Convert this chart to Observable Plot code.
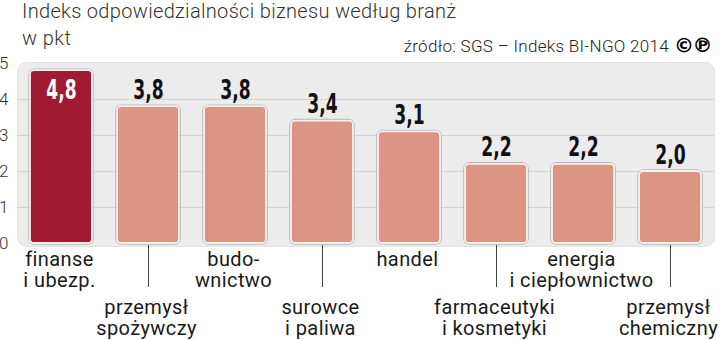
<!DOCTYPE html>
<html>
<head>
<meta charset="utf-8">
<script src="https://cdn.jsdelivr.net/npm/d3@7"></script>
<script src="https://cdn.jsdelivr.net/npm/@observablehq/plot@0.6"></script>
<style>
  html, body { margin: 0; padding: 0; background: #fff; }
  body { width: 720px; height: 340px; overflow: hidden; font-family: Roboto, "Noto Sans", sans-serif; }
  #header { position: relative; height: 56px; color: #333; }
  #title { position: absolute; left: 22px; top: 1px; font-size: 20px; line-height: 20px; letter-spacing: 0.32px; font-weight: 300; white-space: nowrap; }
  #unit { position: absolute; left: 22px; top: 28px; font-size: 20px; line-height: 20px; letter-spacing: 0.4px; font-weight: 300; }
  #source { position: absolute; right: 9px; top: 33px; font-size: 17px; letter-spacing: 0.3px; font-weight: 300; white-space: nowrap; color: #222; }
  #source .cp { font-family: "DejaVu Sans", sans-serif; font-weight: bold; font-size: 20px; letter-spacing: -1.5px; margin-left: 5px; color: #000; }
  svg { overflow: visible; }
</style>
</head>
<body>
<div id="header">
  <div id="title">Indeks odpowiedzialności biznesu według branż</div>
  <div id="unit">w pkt</div>
  <div id="source">źródło: SGS – Indeks BI-NGO 2014<span class="cp">©℗</span></div>
</div>
<div id="chart"></div>
<script>
const categories = ["finanse\ni ubezp.", "przemysł\nspożywczy", "budo-\nwnictwo", "surowce\ni paliwa", "handel", "farmaceutyki\ni kosmetyki", "energia\ni ciepłownictwo", "przemysł\nchemiczny"];
const values = [4.8, 3.8, 3.8, 3.4, 3.1, 2.2, 2.2, 2.0];
const valueLabels = ["4,8", "3,8", "3,8", "3,4", "3,1", "2,2", "2,2", "2,0"];
const yTicks = [0, 1, 2, 3, 4, 5];
const gridValues = [1, 2, 3, 4];

const data = categories.map((c, i) => ({cat: c, value: values[i], label: valueLabels[i], i}));
const topRow = data.filter(d => d.i % 2 === 0);
const bottomRow = data.filter(d => d.i % 2 === 1);
const highlight = data.filter(d => d.i === 0);
const others = data.filter(d => d.i !== 0);

const numFont = '"DejaVu Sans", sans-serif';

const chart = Plot.plot({
  width: 720,
  height: 284,
  marginTop: 7,
  marginBottom: 97,
  marginLeft: 17,
  marginRight: 6,
  style: {fontFamily: "Roboto, sans-serif", overflow: "visible", background: "transparent"},
  x: {domain: categories, paddingInner: 0.29, paddingOuter: 0.13, axis: null},
  y: {domain: [0, 5], axis: null},
  marks: [
    Plot.frame({fill: "#ececec", stroke: "#e2e2e2", rx: 9, insetTop: -1, insetBottom: -3}),
    Plot.ruleY(gridValues, {stroke: "#d3d3d3", strokeWidth: 1}),
    Plot.axisY({ticks: yTicks, tickSize: 0, tickPadding: 9, tickFormat: d => String(d), fontSize: 17, fontWeight: 300, fill: "#333", label: null}),
    Plot.barY(data, {x: "cat", y: "value", fill: "none", stroke: "#b9b3b3", strokeWidth: 3.5, rx: 4.5}),
    Plot.barY(others, {x: "cat", y: "value", fill: "#dc9583", stroke: "#f6f2f1", strokeWidth: 1.8, rx: 4}),
    Plot.barY(highlight, {x: "cat", y: "value", fill: "#a01b31", stroke: "#f6f2f1", strokeWidth: 1.8, rx: 4}),
    Plot.text(others, {x: "cat", y: "value", text: "label", dy: -8, lineAnchor: "bottom", fontSize: 26, fontWeight: "bold", fill: "#111", fontFamily: numFont}),
    Plot.text(highlight, {x: "cat", y: "value", text: "label", dy: 10, lineAnchor: "top", fontSize: 26, fontWeight: "bold", fill: "#fff", fontFamily: numFont}),
    Plot.ruleX(bottomRow, {x: "cat", y1: 0, y2: 0, insetTop: 2, insetBottom: -44, stroke: "#444", strokeWidth: 1}),
    Plot.text(topRow, {x: "cat", y: 0, text: "cat", lineAnchor: "top", dy: 8, dx: -2, lineHeight: 1.05, fontSize: 20, fill: "#1a1a1a"}),
    Plot.text(bottomRow, {x: "cat", y: 0, text: "cat", lineAnchor: "top", dy: 56, dx: -2, lineHeight: 1.05, fontSize: 20, fill: "#1a1a1a"})
  ]
});
document.getElementById("chart").appendChild(chart);

// condense the bold value labels horizontally (reference uses a condensed face)
const labelSet = new Set(valueLabels);
d3.select(chart).selectAll("text").each(function() {
  if (!labelSet.has(this.textContent)) return;
  const bb = this.getBBox();
  const cx = bb.x + bb.width / 2;
  const prev = this.getAttribute("transform") || "";
  this.setAttribute("transform", `${prev} translate(${cx},0) scale(0.66,1) translate(${-cx},0)`);
});
// slight letter spacing on category labels to match the wider reference face
const catSet = new Set(categories.flatMap(c => c.split("\n")));
d3.select(chart).selectAll("text, tspan").each(function() {
  if (catSet.has(this.textContent)) this.style.letterSpacing = "0.4px";
});
</script>
</body>
</html>
